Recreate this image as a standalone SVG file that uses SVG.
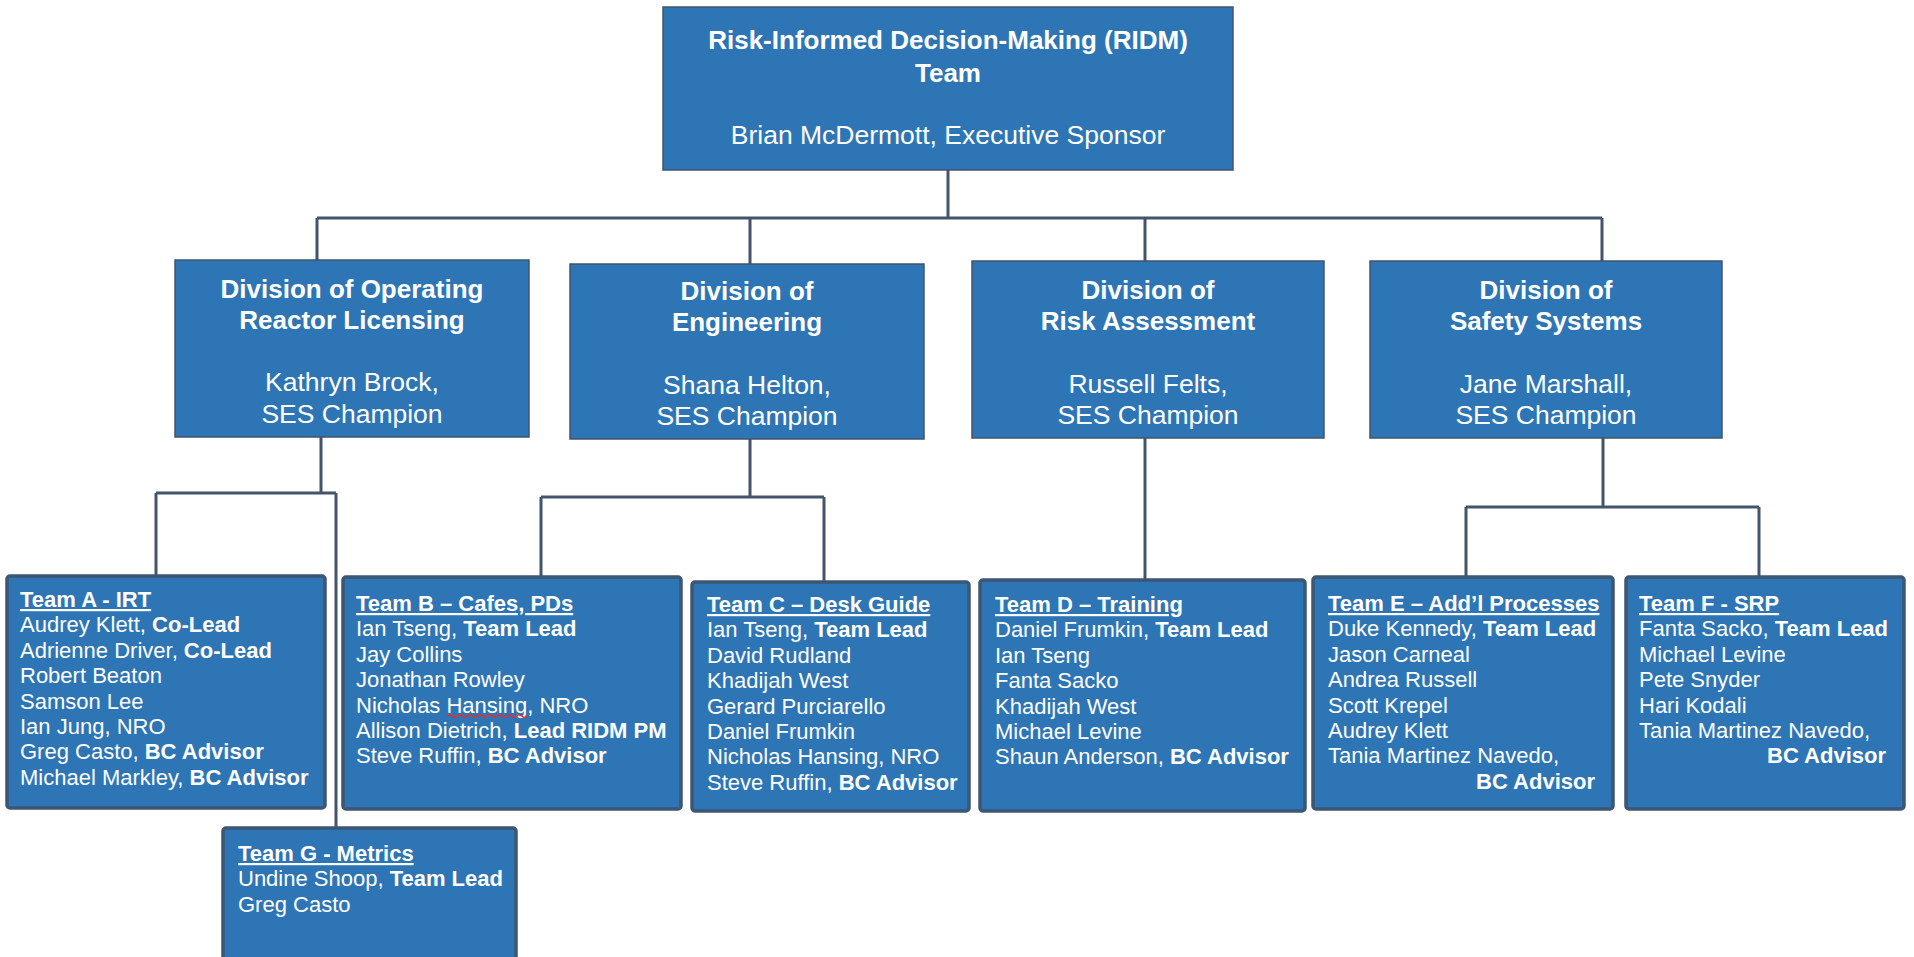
<svg xmlns="http://www.w3.org/2000/svg" width="1914" height="957" viewBox="0 0 1914 957">
<style>
.bg{fill:#ffffff}
.box{fill:#2E75B6;stroke:#41546B;stroke-width:1.5}
.team{fill:#2E75B6;stroke:#3D5673;stroke-width:3.5}
.conn{fill:none;stroke:#44546A;stroke-width:3}
text{font-family:"Liberation Sans",Arial,sans-serif;fill:#ffffff}
.t1{font-size:26px;font-weight:bold;text-anchor:middle}
.t2{font-size:26.5px;text-anchor:middle}
.m{font-size:22px}
.h{font-weight:bold;text-decoration:underline}
.b{font-weight:bold}
.r{text-anchor:end}
</style>
<rect class="bg" x="0" y="0" width="1914" height="957"/>
<g id="connectors">
<path class="conn" d="M948 170 V218 M317 218 H1602 M317 218 V260 M750 218 V264 M1145 218 V261 M1602 218 V261"/>
<path class="conn" d="M321 437 V493 M156 493 H336 M156 493 V576 M336 493 V828"/>
<path class="conn" d="M750 439 V497 M541 497 H824 M541 497 V577 M824 497 V582"/>
<path class="conn" d="M1145 438 V580"/>
<path class="conn" d="M1603 438 V507 M1466 507 H1759 M1466 507 V577 M1759 507 V577"/>
</g>
<g id="ridm">
<rect class="box" x="663" y="7" width="570" height="163"/>
<text class="t1" x="948" y="49">Risk-Informed Decision-Making (RIDM)</text>
<text class="t1" x="948" y="82">Team</text>
<text class="t2" x="948" y="144">Brian McDermott, Executive Sponsor</text>
</g>
<g id="dorl">
<rect class="box" x="175" y="260" width="354" height="177"/>
<text class="t1" x="352" y="298">Division of Operating</text>
<text class="t1" x="352" y="329">Reactor Licensing</text>
<text class="t2" x="352" y="391">Kathryn Brock,</text>
<text class="t2" x="352" y="423">SES Champion</text>
</g>
<g id="de">
<rect class="box" x="570" y="264" width="354" height="175"/>
<text class="t1" x="747" y="300">Division of</text>
<text class="t1" x="747" y="331">Engineering</text>
<text class="t2" x="747" y="394">Shana Helton,</text>
<text class="t2" x="747" y="425">SES Champion</text>
</g>
<g id="dra">
<rect class="box" x="972" y="261" width="352" height="177"/>
<text class="t1" x="1148" y="299">Division of</text>
<text class="t1" x="1148" y="330">Risk Assessment</text>
<text class="t2" x="1148" y="393">Russell Felts,</text>
<text class="t2" x="1148" y="424">SES Champion</text>
</g>
<g id="dss">
<rect class="box" x="1370" y="261" width="352" height="177"/>
<text class="t1" x="1546" y="299">Division of</text>
<text class="t1" x="1546" y="330">Safety Systems</text>
<text class="t2" x="1546" y="393">Jane Marshall,</text>
<text class="t2" x="1546" y="424">SES Champion</text>
</g>
<g id="teamA">
<rect class="team" x="7" y="576" width="318" height="232" rx="3"/>
<text class="m" x="20" y="607"><tspan class="h">Team A - IRT</tspan></text>
<text class="m" x="20" y="632.4">Audrey Klett, <tspan class="b">Co-Lead</tspan></text>
<text class="m" x="20" y="657.8">Adrienne Driver, <tspan class="b">Co-Lead</tspan></text>
<text class="m" x="20" y="683.2">Robert Beaton</text>
<text class="m" x="20" y="708.6">Samson Lee</text>
<text class="m" x="20" y="734">Ian Jung, NRO</text>
<text class="m" x="20" y="759.4">Greg Casto, <tspan class="b">BC Advisor</tspan></text>
<text class="m" x="20" y="784.8">Michael Markley, <tspan class="b">BC Advisor</tspan></text>
</g>
<g id="teamB">
<rect class="team" x="343" y="577" width="338" height="232" rx="3"/>
<text class="m" x="356" y="611"><tspan class="h">Team B – Cafes, PDs</tspan></text>
<text class="m" x="356" y="636.4">Ian Tseng, <tspan class="b">Team Lead</tspan></text>
<text class="m" x="356" y="661.8">Jay Collins</text>
<text class="m" x="356" y="687.2">Jonathan Rowley</text>
<text class="m" x="356" y="712.6">Nicholas Hansing, NRO</text>
<text class="m" x="356" y="738">Allison Dietrich, <tspan class="b">Lead RIDM PM</tspan></text>
<text class="m" x="356" y="763.4">Steve Ruffin, <tspan class="b">BC Advisor</tspan></text>
<path d="M447 716 q2.5 -3 5 0 t5 0 t5 0 t5 0 t5 0 t5 0 t5 0 t5 0 t5 0 t5 0 t5 0 t5 0 t5 0 t5 0 t5 0 t5 0" fill="none" stroke="#E03030" stroke-width="1.5"/>
</g>
<g id="teamC">
<rect class="team" x="692" y="582" width="277" height="229" rx="3"/>
<text class="m" x="707" y="612"><tspan class="h">Team C – Desk Guide</tspan></text>
<text class="m" x="707" y="637.4">Ian Tseng, <tspan class="b">Team Lead</tspan></text>
<text class="m" x="707" y="662.8">David Rudland</text>
<text class="m" x="707" y="688.2">Khadijah West</text>
<text class="m" x="707" y="713.6">Gerard Purciarello</text>
<text class="m" x="707" y="739">Daniel Frumkin</text>
<text class="m" x="707" y="764.4">Nicholas Hansing, NRO</text>
<text class="m" x="707" y="789.8">Steve Ruffin, <tspan class="b">BC Advisor</tspan></text>
</g>
<g id="teamD">
<rect class="team" x="980" y="580" width="325" height="231" rx="3"/>
<text class="m" x="995" y="612"><tspan class="h">Team D – Training</tspan></text>
<text class="m" x="995" y="637.4">Daniel Frumkin, <tspan class="b">Team Lead</tspan></text>
<text class="m" x="995" y="662.8">Ian Tseng</text>
<text class="m" x="995" y="688.2">Fanta Sacko</text>
<text class="m" x="995" y="713.6">Khadijah West</text>
<text class="m" x="995" y="739">Michael Levine</text>
<text class="m" x="995" y="764.4">Shaun Anderson, <tspan class="b">BC Advisor</tspan></text>
</g>
<g id="teamE">
<rect class="team" x="1313" y="577" width="300" height="232" rx="3"/>
<text class="m" x="1328" y="611"><tspan class="h">Team E – Add’l Processes</tspan></text>
<text class="m" x="1328" y="636.4">Duke Kennedy, <tspan class="b">Team Lead</tspan></text>
<text class="m" x="1328" y="661.8">Jason Carneal</text>
<text class="m" x="1328" y="687.2">Andrea Russell</text>
<text class="m" x="1328" y="712.6">Scott Krepel</text>
<text class="m" x="1328" y="738">Audrey Klett</text>
<text class="m" x="1328" y="763.4">Tania Martinez Navedo,</text>
<text class="m b r" x="1595" y="788.8">BC Advisor</text>
</g>
<g id="teamF">
<rect class="team" x="1626" y="577" width="278" height="232" rx="3"/>
<text class="m" x="1639" y="611"><tspan class="h">Team F - SRP</tspan></text>
<text class="m" x="1639" y="636.4">Fanta Sacko, <tspan class="b">Team Lead</tspan></text>
<text class="m" x="1639" y="661.8">Michael Levine</text>
<text class="m" x="1639" y="687.2">Pete Snyder</text>
<text class="m" x="1639" y="712.6">Hari Kodali</text>
<text class="m" x="1639" y="738">Tania Martinez Navedo,</text>
<text class="m b r" x="1886" y="763.4">BC Advisor</text>
</g>
<g id="teamG">
<rect class="team" x="223" y="828" width="293" height="145" rx="3"/>
<text class="m" x="238" y="861"><tspan class="h">Team G - Metrics</tspan></text>
<text class="m" x="238" y="886.4">Undine Shoop, <tspan class="b">Team Lead</tspan></text>
<text class="m" x="238" y="911.8">Greg Casto</text>
</g>
</svg>
